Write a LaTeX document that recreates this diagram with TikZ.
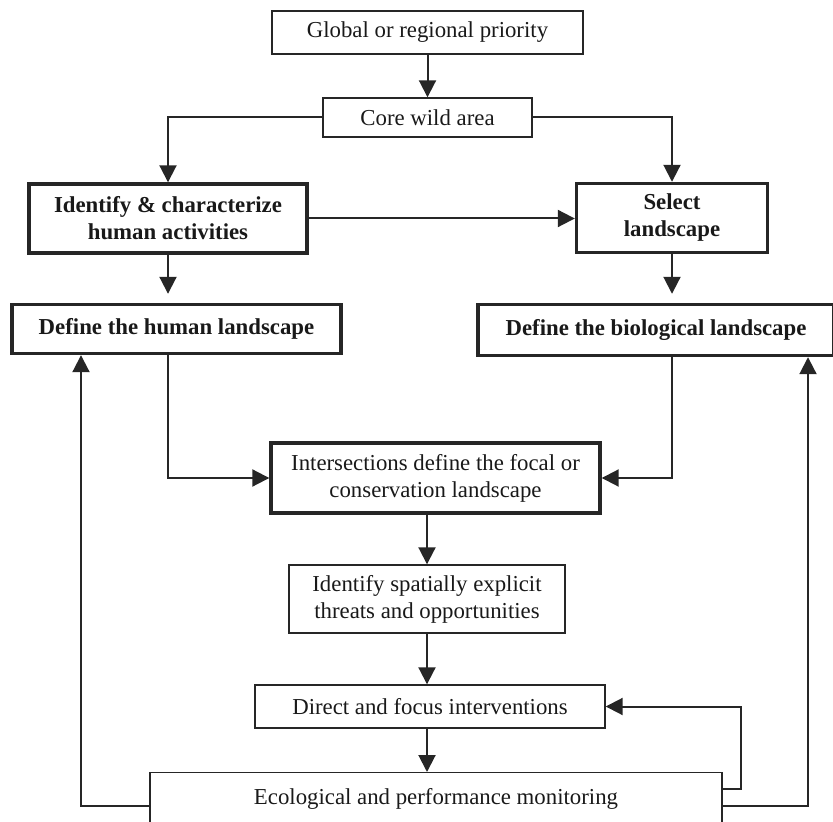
\documentclass[tikz,border=0pt]{standalone}
\usepackage{fontspec}
\setmainfont{Liberation Serif}
\usetikzlibrary{arrows.meta, positioning}

\begin{document}
\begin{tikzpicture}[
  x=0.5pt, y=-0.5pt,
  stage/.style     = {rectangle, draw=black!85, line width=0.7pt, inner sep=0pt,
                      align=center, text=black!90, font=\fontsize{11.4}{13.5}\selectfont},
  thickstage/.style = {stage, line width=1.7pt},
  keystage/.style  = {thickstage, font=\fontsize{11.4}{13.5}\selectfont\bfseries},
  arrow/.style     = {-{Triangle[length=8.5pt, width=8.5pt]}, line width=1pt, draw=black!85},
  gaparrow/.style  = {arrow, shorten >=4.5pt}
]
\useasboundingbox (0,0) rectangle (833,822);

% ── Top of the chain ─────────────────────────────────────────────────────────
\node[stage, minimum width=155.5pt, minimum height=21.5pt]
  (glob) at (427.5,32.5) {Global or regional priority};
\node[stage, minimum width=104.5pt, minimum height=19.5pt]
  (core) at (427.5,117.5) {Core wild area};

% ── Two branches ─────────────────────────────────────────────────────────────
\node[keystage, minimum width=139pt, minimum height=34.5pt]
  (ident) at (168,218.5) {Identify \& characterize\\human activities};
\node[keystage, minimum width=95.5pt, minimum height=34.5pt]
  (sel) at (672,218) {Select\\landscape};
\node[keystage, minimum width=164.5pt, minimum height=24.5pt]
  (dhum) at (176.5,329) {Define the human landscape};
\node[keystage, minimum width=178pt, minimum height=25.5pt]
  (dbio) at (656,330) {Define the biological landscape};

% ── Central column ───────────────────────────────────────────────────────────
\node[thickstage, minimum width=164.5pt, minimum height=35pt]
  (inter) at (435.5,478) {Intersections define the focal or\\conservation landscape};
\node[stage, minimum width=138pt, minimum height=34pt]
  (spat) at (427,599) {Identify spatially explicit\\threats and opportunities};
\node[stage, minimum width=175pt, minimum height=21.5pt]
  (direct) at (430,706.5) {Direct and focus interventions};
\node[stage, minimum width=286pt, minimum height=26pt, anchor=north]
  (eco) at (436,772) {Ecological and performance monitoring};

% ── Rails for the feedback loops ─────────────────────────────────────────────
\coordinate (lrail) at (81,806);
\coordinate (rrail) at (808,806);
\coordinate (mrail) at (741,789);

% ── Connectors ───────────────────────────────────────────────────────────────
\draw[arrow] (glob.south) -- (glob.south |- core.north);
\draw[arrow] (core.west) -| (ident.north);
\draw[arrow] (core.east) -| (sel.north);
\draw[arrow] (ident.east) -- (ident.east -| sel.west);
\draw[gaparrow] (ident.south) -- (ident.south |- dhum.north);
\draw[gaparrow] (sel.south) -- (sel.south |- dbio.north);
\draw[arrow] (dhum.south -| ident.south) |- (inter.west);
\draw[arrow] (dbio.south -| sel.south) |- (inter.east);
\draw[arrow] (inter.south -| spat.north) -- (spat.north);
\draw[arrow] (spat.south) -- (spat.south |- direct.north);
\draw[arrow] (direct.south -| spat.south) -- (spat.south |- eco.north);

% ── Feedback from monitoring ─────────────────────────────────────────────────
\draw[arrow] (mrail -| eco.east) -- (mrail) |- (direct.east);
\draw[arrow] (lrail -| eco.west) -- (lrail) -- (lrail |- dhum.south);
\draw[arrow] (rrail -| eco.east) -- (rrail) -- (rrail |- dbio.south);

\end{tikzpicture}
\end{document}
